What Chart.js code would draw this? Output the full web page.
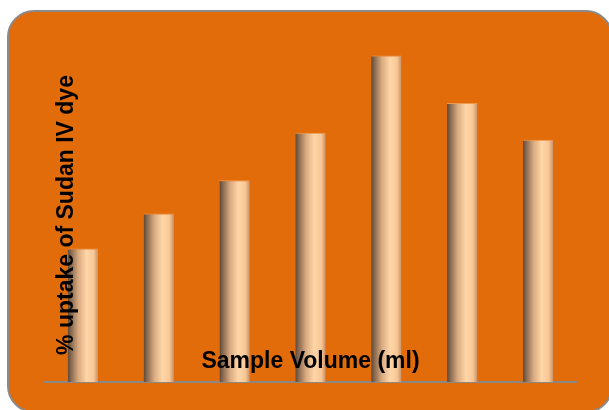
<!DOCTYPE html>
<html>
<head>
<meta charset="utf-8">
<script src="https://cdn.jsdelivr.net/npm/chart.js@4/dist/chart.umd.min.js"></script>
<style>
  html, body { margin: 0; padding: 0; background: #ffffff; }
  #wrap { width: 609px; height: 410px; position: relative; }
</style>
</head>
<body>
<div id="wrap"><canvas id="chart"></canvas></div>
<script>
'use strict'

// sample volumes (no tick labels shown in the original)
let volumes = ['1', '2', '3', '4', '5', '6', '7'],
    uptake = [38, 48, 57.5, 71, 93, 79.5, 69],
    yTitle = '% uptake of Sudan IV dye',
    xTitle = 'Sample Volume (ml)',
    barPct = 0.4

// rounded orange panel behind everything
const panel = {
    id: 'panel',
    beforeDraw(chart) {
        let ctx = chart.ctx
        ctx.save()
        ctx.beginPath()
        ctx.roundRect(8, 11, 604, 401, 26)
        ctx.fillStyle = '#E36C0A'
        ctx.fill()
        ctx.lineWidth = 2
        ctx.strokeStyle = '#8a8a8a'
        ctx.stroke()
        ctx.restore()
    }
}

// both axis titles sit inside the plot, over the bars
const titles = {
    id: 'titles',
    afterDatasetsDraw(chart) {
        let ctx = chart.ctx,
            area = chart.chartArea
        ctx.save()
        ctx.fillStyle = '#000000'
        ctx.font = 'bold 23px "Liberation Sans", Arial, sans-serif'
        ctx.textAlign = 'center'
        ctx.textBaseline = 'middle'
        ctx.fillText(xTitle, (area.left + area.right) / 2, area.bottom - 20)
        ctx.translate(area.left + 22, 215)
        ctx.rotate(-Math.PI / 2)
        ctx.fillText(yTitle, 0, 0)
        ctx.restore()
    }
}

function barFill(c) {
    let chart = c.chart,
        area = chart.chartArea
    if (!area || c.type !== 'data') return '#f5c08f'
    let x = chart.scales.x.getPixelForValue(c.dataIndex),
        w = (area.right - area.left) / volumes.length * barPct,
        g = chart.ctx.createLinearGradient(x - w / 2, 0, x + w / 2, 0)
    g.addColorStop(0, '#5a4838')
    g.addColorStop(0.12, '#8c6c52')
    g.addColorStop(0.35, '#d8aa80')
    g.addColorStop(0.62, '#ffd6a8')
    g.addColorStop(0.85, '#f8c896')
    g.addColorStop(1, '#c89068')
    return g
}

let myChart = new Chart(document.getElementById('chart'), {
    type: 'bar',
    data: {
        labels: volumes,
        datasets: [{
            data: uptake,
            backgroundColor: barFill,
            borderColor: '#f09a50',
            borderWidth: {top: 1, left: 0, right: 0, bottom: 0},
            borderSkipped: 'bottom',
            barPercentage: barPct,
            categoryPercentage: 1
        }]
    },
    options: {
        responsive: true,
        maintainAspectRatio: false,
        animation: false,
        layout: {padding: {left: 45, right: 33, top: 31, bottom: 28}},
        plugins: {legend: {display: false}, tooltip: {enabled: false}},
        scales: {
            x: {
                ticks: {display: false},
                grid: {display: false, drawTicks: false},
                border: {display: true, color: '#888888', width: 2}
            },
            y: {
                display: false,
                min: 0,
                max: 100
            }
        }
    },
    plugins: [panel, titles]
})
</script>
</body>
</html>
